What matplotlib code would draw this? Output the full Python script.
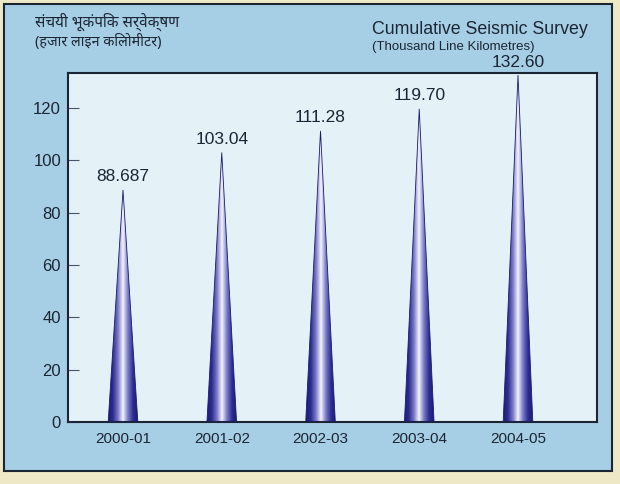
import numpy as np
import matplotlib
matplotlib.use("Agg")
import matplotlib.pyplot as plt
from matplotlib.colors import LinearSegmentedColormap
from matplotlib.patches import Polygon, Rectangle

# 数据
years = ['2000-01', '2001-02', '2002-03', '2003-04', '2004-05']
survey = [88.687, 103.04, 111.28, 119.70, 132.60]
value_labels = ['88.687', '103.04', '111.28', '119.70', '132.60']
yticks = [0, 20, 40, 60, 80, 100, 120]

title_hi = 'संचयी भूकंपिक सर्वेक्षण'
subtitle_hi = '(हजार लाइन किलोमीटर)'
title_en = 'Cumulative Seismic Survey'
subtitle_en = '(Thousand Line Kilometres)'

# 颜色
beige = '#eee8c6'
panel_blue = '#a6cfe6'
inner_blue = '#e4f2f8'
dark = '#1c2533'
sans = ['Liberation Sans', 'DejaVu Sans']
hindi = ['Noto Sans', 'DejaVu Sans']

cone_cmap = LinearSegmentedColormap.from_list(
    'cone', ['#1a1a78', '#2e2e92', '#7a7ac6', '#f4f4ff', '#7a7ac6', '#2e2e92', '#1a1a78'])

W, H = 620, 484
fig = plt.figure(figsize=(W / 100, H / 100), dpi=100)
fig.patch.set_facecolor(beige)

# 蓝色面板
fig.patches.append(Rectangle((4 / W, 1 - 471 / H), 608 / W, 467 / H,
                             transform=fig.transFigure, facecolor=panel_blue,
                             edgecolor=dark, linewidth=1.5, zorder=0))

ax = fig.add_axes([68 / W, 1 - 422 / H, (597 - 68) / W, (422 - 73) / H])
ax.set_zorder(2)
ax.set_facecolor(inner_blue)

x = np.arange(len(years))
cone_w = 0.30
grad = np.tile(np.linspace(0, 1, 256), (2, 1))
for xi, v, lab in zip(x, survey, value_labels):
    tri = Polygon([(xi - cone_w / 2, 0), (xi + cone_w / 2, 0), (xi, v)],
                  closed=True, facecolor='none', edgecolor='#1a1a70',
                  linewidth=0.6, zorder=3)
    ax.add_patch(tri)
    im = ax.imshow(grad, cmap=cone_cmap, aspect='auto', zorder=2,
                   extent=[xi - cone_w / 2, xi + cone_w / 2, 0, v])
    im.set_clip_path(tri)
    ax.annotate(lab, (xi, v), xytext=(0, 4), textcoords='offset points',
                ha='center', va='bottom', fontsize=12.5, color=dark,
                family=sans)

ax.set_xlim(-0.557, 4.80)
ax.set_ylim(0, 133.4)
ax.set_xticks(x)
ax.set_xticklabels(years, family=sans, fontsize=11, color=dark)
ax.set_yticks(yticks)
ax.set_yticklabels([str(t) for t in yticks], family=sans,
                   fontsize=12, color=dark)
ax.tick_params(axis='x', length=0, pad=7)
ax.tick_params(axis='y', direction='in', length=8, width=0.8,
               color='#445566', pad=5)
for s in ax.spines.values():
    s.set_color(dark)
    s.set_linewidth(1.5)

# 标题
fig.text(35 / W, 1 - 27 / H, title_hi, family=hindi, fontsize=11,
         fontweight='bold', color=dark, va='baseline')
fig.text(35 / W, 1 - 46 / H, subtitle_hi, family=hindi, fontsize=10.3,
         color=dark, va='baseline')
fig.text(372 / W, 1 - 34 / H, title_en, family=sans, fontsize=12.8,
         color=dark, va='baseline')
fig.text(372 / W, 1 - 50 / H, subtitle_en, family=sans,
         fontsize=9.5, color=dark, va='baseline')

fig.savefig('out.png', dpi=100, facecolor=beige)
